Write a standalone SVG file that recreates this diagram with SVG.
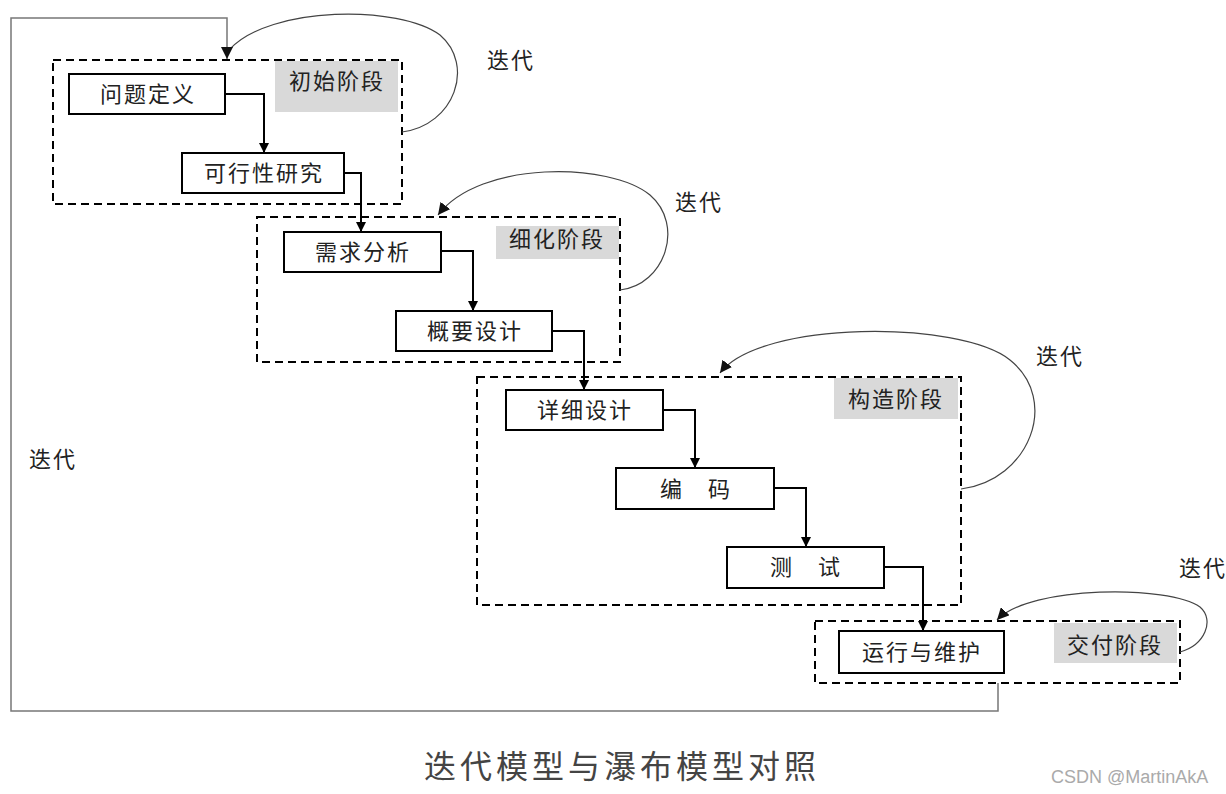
<svg xmlns="http://www.w3.org/2000/svg" width="1226" height="794" viewBox="0 0 1226 794">
<defs>
<style>
text{font-family:"Noto Sans CJK SC","Liberation Sans",sans-serif;fill:#222;}
.t{font-size:22px;letter-spacing:2px;text-anchor:middle;dominant-baseline:central;}
.box{fill:#fff;stroke:#000;stroke-width:2;}
.phase{fill:none;stroke:#000;stroke-width:2;stroke-dasharray:8 5;}
.tag{fill:#d9d9d9;stroke:none;}
.conn{fill:none;stroke:#000;stroke-width:2;marker-end:url(#ah);}
.loop{fill:none;stroke:#444;stroke-width:1.2;marker-end:url(#ah2);}
.loopn{fill:none;stroke:#444;stroke-width:1.2;}
.outer{fill:none;stroke:#777;stroke-width:1.5;marker-end:url(#ah2);}
.title{font-size:32px;letter-spacing:4px;text-anchor:middle;fill:#444;}
.wm{font-family:"Liberation Sans",Arial,sans-serif;font-size:18px;fill:#aaa;}
</style>
<marker id="ah" viewBox="0 0 10 10" refX="10" refY="5" markerWidth="10" markerHeight="10" markerUnits="userSpaceOnUse" orient="auto">
<path d="M0,0 L10,5 L0,10 Z" fill="#000"/>
</marker>
<marker id="ah2" viewBox="0 0 10 10" refX="10" refY="5" markerWidth="12" markerHeight="12" markerUnits="userSpaceOnUse" orient="auto">
<path d="M0,0 L10,5 L0,10 Z" fill="#111"/>
</marker>
</defs>
<rect width="1226" height="794" fill="#fff"/>

<g id="phase-initial">
<rect class="phase" x="53" y="60" width="349" height="144"/>
<rect class="tag" x="275" y="61" width="123" height="51"/>
<text class="t" x="337" y="79">初始阶段</text>
</g>
<g id="phase-refine">
<rect class="phase" x="257" y="217" width="363" height="145"/>
<rect class="tag" x="496" y="226" width="123" height="33"/>
<text class="t" x="557" y="237">细化阶段</text>
</g>
<g id="phase-construct">
<rect class="phase" x="477" y="377" width="484" height="228"/>
<rect class="tag" x="834" y="378" width="124" height="41"/>
<text class="t" x="896" y="397">构造阶段</text>
</g>
<g id="phase-deliver">
<rect class="phase" x="815" y="621" width="365" height="62"/>
<rect class="tag" x="1054" y="623" width="123" height="40"/>
<text class="t" x="1115" y="643">交付阶段</text>
</g>

<g id="connectors">
<path class="conn" d="M225,94 H264 V153"/>
<path class="conn" d="M344,173 H361 V232"/>
<path class="conn" d="M441,251 H473 V311"/>
<path class="conn" d="M552,331 H584 V390"/>
<path class="conn" d="M663,410 H695 V468"/>
<path class="conn" d="M774,488 H806 V547"/>
<path class="conn" d="M884,567 H923 V631"/>
<path class="loopn" d="M402,132 C455,125 475,65 440,35 C400,5 270,5 229,50"/>
<path class="loop" d="M620,290 C665,285 685,225 650,195 C610,162 480,160 438,215"/>
<path class="loop" d="M961,489 C1030,480 1060,400 1010,360 C960,320 760,320 720,373"/>
<path class="loop" d="M1180,652 C1205,645 1215,620 1200,607 C1170,585 1030,585 997,620"/>
<path class="outer" d="M998,683 V711 H11 V18 H227 V59"/>
</g>

<g id="n-wentidingyi"><rect class="box" x="69" y="74" width="156" height="40"/><text class="t" x="148" y="92">问题定义</text></g>
<g id="n-kexingxing"><rect class="box" x="182" y="153" width="162" height="40"/><text class="t" x="264" y="171">可行性研究</text></g>
<g id="n-xuqiu"><rect class="box" x="284" y="232" width="157" height="40"/><text class="t" x="363" y="250">需求分析</text></g>
<g id="n-gaiyao"><rect class="box" x="396" y="311" width="156" height="40"/><text class="t" x="475" y="329">概要设计</text></g>
<g id="n-xiangxi"><rect class="box" x="506" y="390" width="157" height="40"/><text class="t" x="585" y="408">详细设计</text></g>
<g id="n-bianma"><rect class="box" x="616" y="468" width="158" height="41"/><text class="t" x="696" y="487">编　码</text></g>
<g id="n-ceshi"><rect class="box" x="727" y="547" width="157" height="41"/><text class="t" x="806" y="565">测　试</text></g>
<g id="n-yunxing"><rect class="box" x="839" y="631" width="165" height="42"/><text class="t" x="922" y="650">运行与维护</text></g>

<g id="labels">
<text class="t" x="511" y="58">迭代</text>
<text class="t" x="699" y="200">迭代</text>
<text class="t" x="1060" y="354">迭代</text>
<text class="t" x="1203" y="566">迭代</text>
<text class="t" x="53" y="457">迭代</text>
</g>

<text class="title" x="622" y="778">迭代模型与瀑布模型对照</text>
<text class="wm" x="1051" y="783">CSDN @MartinAkA</text>
</svg>
